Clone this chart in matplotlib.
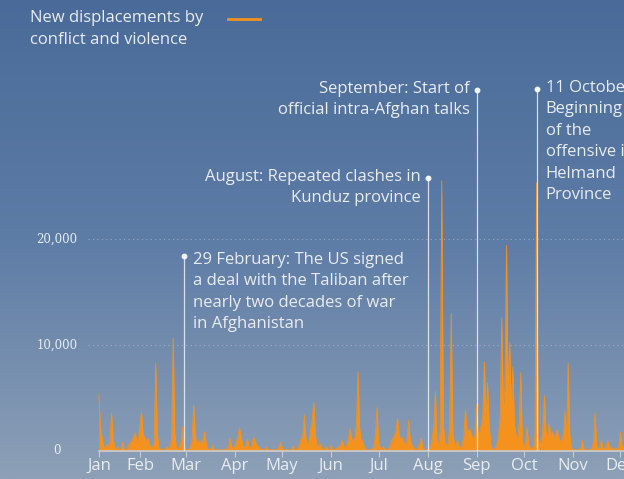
import numpy as np
import matplotlib.pyplot as plt
from matplotlib.colors import LinearSegmentedColormap
from matplotlib.lines import Line2D

# Daily new displacements by conflict and violence, Afghanistan 2020.
# Day 0 is 1 January; the series starts on 6 January.
start_day = 5
jan = [5300, 2200, 1300, 400, 300, 600, 400, 900, 3600, 1200, 300, 200, 400,
       150, 100, 850, 200, 100, 150, 600, 800, 1000, 1400, 1700, 900, 1100]
feb = [2500, 3700, 1500, 1300, 900, 1200, 600, 400, 300, 900, 8300, 1500, 300,
       200, 150, 100, 200, 400, 300, 200, 1200, 10650, 1800, 300, 200, 400,
       900, 2300, 600]
mar = [200, 100, 150, 400, 1200, 4300, 1500, 600, 1000, 700, 900, 1200, 1800,
       500, 200, 150, 200, 500, 150, 100, 100, 150, 100, 100, 200, 150, 100,
       300, 1200, 400, 300]
apr = [500, 800, 1400, 2200, 1300, 600, 300, 500, 1100, 400, 300, 700, 1300,
       900, 500, 400, 200, 150, 100, 200, 400, 150, 100, 100, 150, 100, 100,
       200, 400, 800]
may = [300, 100, 100, 150, 100, 100, 200, 450, 200, 100, 300, 700, 1200, 1500,
       3400, 1200, 600, 900, 2000, 3000, 4600, 1500, 600, 400, 700, 300, 200,
       150, 450, 150, 100]
jun = [500, 150, 100, 200, 300, 400, 600, 1000, 500, 400, 600, 1200, 2100,
       1200, 900, 1300, 2500, 7500, 2200, 800, 1000, 300, 150, 100, 100, 150,
       200, 400, 1500, 4100]
jul = [900, 300, 200, 400, 150, 100, 200, 400, 800, 1200, 1500, 1900, 3100,
       1600, 1000, 1300, 800, 600, 1000, 2900, 1100, 600, 300, 200, 150, 400,
       700, 1200, 300, 100, 100]
aug = [150, 300, 500, 1200, 2500, 5600, 900, 500, 2000, 25500, 2400, 800, 600,
       700, 2200, 13000, 1800, 700, 500, 1000, 400, 300, 600, 1500, 3900, 1800,
       2000, 2000, 1400, 1200, 1500]
sep = [4400, 1500, 1800, 2500, 3500, 8400, 3000, 6400, 2500, 600, 200, 150,
       300, 800, 1500, 3500, 12600, 4000, 6000, 19400, 5000, 10200, 4000, 7900,
       2500, 1500, 1200, 2500, 7400, 1000]
oct_ = [300, 800, 2200, 600, 300, 200, 400, 1500, 25300, 1500, 600, 1000, 2000,
        5200, 1800, 1400, 2600, 1500, 1800, 1200, 1500, 2000, 1300, 900, 1100,
        1600, 3700, 1200, 8300, 1500, 300]
nov = [150, 100, 100, 100, 150, 300, 1000, 200, 100, 100, 100, 150, 300, 800,
       3600, 600, 200, 300, 1000, 300, 200, 400, 1000, 500, 300, 200, 150, 300,
       200, 300]
dec = [1800, 600, 300, 200, 150]

values = np.array(jan + feb + mar + apr + may + jun + jul + aug + sep + oct_ + nov + dec)
days = np.arange(start_day, start_day + len(values))

month_labels = ['Jan', 'Feb', 'Mar', 'Apr', 'May', 'Jun',
                'Jul', 'Aug', 'Sep', 'Oct', 'Nov', 'Dec']
month_days = [5, 31, 60, 91, 121, 152, 182, 213, 244, 274, 305, 335]

y_ticks = [0, 10000, 20000]
y_labels = ['0', '10,000', '20,000']

# (day, marker height, text side, text raise in points, label)
events = [
    (59, 18400, 'left', 3,
     '29 February: The US signed\na deal with the Taliban after\n'
     'nearly two decades of war\nin Afghanistan'),
    (213, 25750, 'right', 6.5, 'August: Repeated clashes in\nKunduz province'),
    (244, 34060, 'right', 6.5, 'September: Start of\nofficial intra-Afghan talks'),
    (282, 34150, 'left', 6.5,
     '11 October:\nBeginning\nof the\noffensive in\nHelmand\nProvince'),
]

orange = '#f5921e'
text_col = '#e9ecf0'
font = 'Open Sans'
fsize = 12

W, H = 624, 479
fig = plt.figure(figsize=(W / 100, H / 100), dpi=100)

# background gradient, dark steel blue at the top fading to grey-blue
bg = fig.add_axes([0, 0, 1, 1], zorder=0)
bg.axis('off')
grad = LinearSegmentedColormap.from_list('bg', ['#4a6b99', '#5d7ca6', '#8da0b7'])
bg.imshow(np.linspace(0, 1, 256).reshape(-1, 1), cmap=grad, aspect='auto',
          extent=[0, 1, 0, 1], origin='upper')
bg.set_xlim(0, 1)
bg.set_ylim(0, 1)

# main axes: bottom edge sits on the zero line
base_px = 451
ax = fig.add_axes([0, (H - base_px) / H, 1, base_px / H], zorder=1)
ax.patch.set_alpha(0)
px_per_day = 1.58
x0_px = 91
ax.set_xlim(-x0_px / px_per_day, (W - x0_px) / px_per_day)
ax.set_ylim(0, base_px * 10000 / 106)
for s in ax.spines.values():
    s.set_visible(False)

# dotted gridlines
for v in y_ticks[1:]:
    ax.axhline(v, xmin=88 / W, color='#c9d3df', lw=0.8, ls=(0, (1, 3)), alpha=0.5)

ax.fill_between(days, values, 0, color=orange, lw=0, zorder=2)
ax.plot(days, values, color=orange, lw=0.6, zorder=2)
ax.plot([days[0], ax.get_xlim()[1]], [0, 0], color='#c9ced4', lw=1.2, zorder=3,
        clip_on=False)

ax.set_xticks(month_days)
ax.set_xticklabels(month_labels, fontfamily=font, fontsize=fsize, color=text_col)
ax.tick_params(axis='x', direction='out', length=4.5, width=0.8, color='#c9ced4',
               pad=0.5)
ax.set_yticks([])
for v, lab in zip(y_ticks, y_labels):
    ax.text(57 / W, v, lab, transform=ax.get_yaxis_transform(), ha='center',
            va='center', fontfamily='DejaVu Serif', fontsize=8.5, color=text_col)

# event markers
for day, y, side, raise_pt, label in events:
    ax.vlines(day, 0, y, color='#eef1f5', lw=0.9, alpha=0.85, zorder=4)
    ax.plot(day, y, 'o', ms=3.2, color='#f4f6f8', zorder=5)
    dx = 6.5 if side == 'left' else -5
    ax.annotate(label, xy=(day, y), xytext=(dx, raise_pt),
                textcoords='offset points', ha=side, va='top',
                fontfamily=font, fontsize=fsize, color=text_col,
                linespacing=1.45, zorder=5)

# legend
fig.text(30 / W, 1 - 18 / H, 'New displacements by', va='center',
         fontfamily=font, fontsize=fsize, color=text_col)
fig.text(30 / W, 1 - 40 / H, 'conflict and violence', va='center',
         fontfamily=font, fontsize=fsize, color=text_col)
fig.add_artist(Line2D([228 / W, 260 / W], [1 - 19 / H, 1 - 19 / H],
                      color=orange, lw=2))

fig.savefig('out.png', dpi=100)
